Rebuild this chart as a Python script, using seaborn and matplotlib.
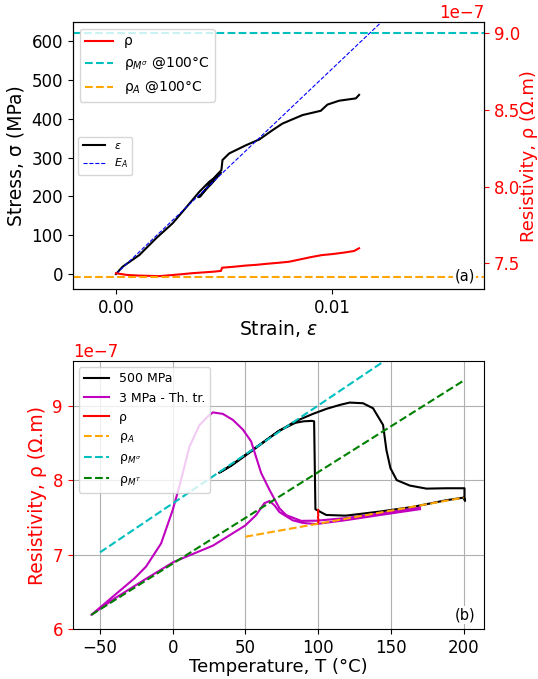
"""
Stress / resistivity plots: (a) strain curve at 100 C, (b) resistivity vs temperature.
"""
import matplotlib
matplotlib.use("Agg")
import matplotlib.pyplot as plt
import seaborn as sns

# ---- (a) stress-strain at 100 C ----
strain_eps = [0, 0.00031, 0.00108, 0.00185, 0.00262, 0.00308, 0.00385, 0.00431, 0.00485,
              0.0044, 0.0038, 0.0039, 0.0046, 0.00487, 0.00492, 0.00523, 0.0060, 0.00662,
              0.00723, 0.00769, 0.00862, 0.00946, 0.00977, 0.01031, 0.01108, 0.01123]
stress = [0, 19, 49, 92, 131, 161, 212, 238, 261,
          232, 198, 200, 252, 268, 294, 311, 332, 347,
          371, 388, 410, 421, 437, 447, 453, 462]

strain_rho = [0, 0.0005, 0.001, 0.0015, 0.002, 0.0025, 0.003, 0.0035, 0.004, 0.0045,
              0.00485, 0.0049, 0.0055, 0.006, 0.0065, 0.007, 0.0075, 0.008, 0.0085,
              0.009, 0.0095, 0.010, 0.0105, 0.011, 0.01123]
rho_strain = [7.435, 7.424, 7.42, 7.418, 7.416, 7.422, 7.428, 7.435, 7.44, 7.445,
              7.45, 7.471, 7.478, 7.485, 7.49, 7.497, 7.503, 7.51, 7.525,
              7.54, 7.553, 7.56, 7.569, 7.58, 7.598]

E_A = 53000.0  # MPa
strain_fit = [0.0, 0.0125]
rho_Ms_100 = 9.0
rho_A_100 = 7.41

# ---- (b) resistivity vs temperature ----
T_500 = [32, 40, 55, 65, 73, 84.3, 96.4, 105.6, 114.8, 121.6, 130.8, 137.7, 144.6,
         146.9, 149.7, 154, 163, 174.4, 188, 200.6, 200.6, 201, 200, 188, 165, 142,
         119, 105.5, 98.1, 97.2, 95.6, 90, 84.3, 72.9, 55, 40, 33]
rho_500 = [8.10, 8.20, 8.41, 8.55, 8.66, 8.79, 8.89, 8.957, 9.01, 9.042, 9.033, 8.966, 8.742,
           8.406, 8.16, 8.0, 7.927, 7.886, 7.891, 7.891, 7.77, 7.72, 7.765, 7.73, 7.64, 7.577,
           7.523, 7.532, 7.609, 8.79, 8.796, 8.79, 8.77, 8.66, 8.40, 8.19, 8.11]

T_3 = [170, 142, 119, 98.6, 88.3, 78, 73.4, 66.5, 60.8, 53.9, 48.2, 41.3, 34.4, 27.6,
       24.1, 18.4, 11.5, 4.6, 0, -8, -18.3, -26.3, -56,
       -40, -20, 0.5, 27.6, 49.8, 57.3, 63, 66.5, 70, 73.4, 82.5, 89.4, 98.6,
       120, 142, 170]
rho_3 = [7.63, 7.55, 7.49, 7.455, 7.453, 7.53, 7.62, 7.87, 8.095, 8.52, 8.68, 8.81, 8.89, 8.91,
         8.855, 8.74, 8.45, 7.92, 7.6, 7.15, 6.84, 6.681, 6.19,
         6.41, 6.655, 6.9, 7.12, 7.39, 7.53, 7.69, 7.72, 7.66, 7.57, 7.46, 7.425, 7.41,
         7.465, 7.53, 7.61]

T_rho = [100, 100.2, 99.8, 100.1, 99.9, 100]
rho_T = [7.43, 7.47, 7.5, 7.53, 7.56, 7.6]

T_A = [50, 200]
rho_A = [7.24, 7.765]
T_Ms = [-50, 150]
rho_Ms = [7.03, 9.66]
T_Mt = [-56, 200]
rho_Mt = [6.19, 9.337]

sc = 1e-7

fig = plt.figure(figsize=(5.38, 6.79), dpi=100)
ax1 = fig.add_axes([0.1351, 0.5739, 0.7645, 0.3937])
ax2 = ax1.twinx()
ax3 = fig.add_axes([0.1351, 0.0736, 0.7645, 0.3947])

# (a) stress-strain
sns.lineplot(x=strain_eps, y=stress, sort=False, estimator=None, ax=ax1,
             color="k", lw=1.5, label=r"$\varepsilon$")
stress_fit = [E_A * s for s in strain_fit]
sns.lineplot(x=strain_fit, y=stress_fit, sort=False, estimator=None, ax=ax1,
             color="b", lw=0.8, linestyle="--", label=r"$E_A$")
ax1.set_xlim(-0.002, 0.017)
ax1.set_ylim(-39.5, 650)
ax1.set_xticks([0, 0.01])
ax1.set_yticks(range(0, 700, 100))
ax1.set_xlabel(r"Strain, $\varepsilon$", fontsize=13.5, labelpad=1)
ax1.set_ylabel("Stress, σ (MPa)", fontsize=13.5)
ax1.tick_params(labelsize=12)
ax1.legend(loc="center left", fontsize=8)

sns.lineplot(x=strain_rho, y=[r * sc for r in rho_strain], sort=False, estimator=None,
             ax=ax2, color="r", lw=1.5, label="ρ")
ax2.axhline(rho_Ms_100 * sc, color="c", ls="--", lw=1.5, label=r"ρ$_{M^\sigma}$ @100°C")
ax2.axhline(rho_A_100 * sc, color="orange", ls="--", lw=1.5, label=r"ρ$_A$ @100°C")
ax2.set_ylim(7.33 * sc, 9.074 * sc)
ax2.set_yticks([7.5 * sc, 8.0 * sc, 8.5 * sc, 9.0 * sc])
ax2.set_ylabel("Resistivity, ρ (Ω.m)", color="r", fontsize=13, labelpad=0)
ax2.tick_params(axis="y", colors="r", labelsize=12)
ax2.yaxis.get_offset_text().set_color("r")
ax2.yaxis.get_offset_text().set_fontsize(12)
ax2.legend(loc="upper left", fontsize=10)
ax2.text(0.978, 0.051, "(a)", transform=ax2.transAxes, ha="right", va="center",
         fontsize=10.5, bbox=dict(facecolor="white", edgecolor="none", pad=1))

# (b) resistivity vs temperature
ax3.grid(True, color="#b0b0b0", lw=0.8)
ax3.set_axisbelow(True)
sns.lineplot(x=T_500, y=[r * sc for r in rho_500], sort=False, estimator=None, ax=ax3,
             color="k", lw=1.5, label="500 MPa")
sns.lineplot(x=T_3, y=[r * sc for r in rho_3], sort=False, estimator=None, ax=ax3,
             color="m", lw=1.5, label="3 MPa - Th. tr.")
sns.lineplot(x=T_rho, y=[r * sc for r in rho_T], sort=False, estimator=None, ax=ax3,
             color="r", lw=1.5, label="ρ")
sns.lineplot(x=T_A, y=[r * sc for r in rho_A], sort=False, estimator=None, ax=ax3,
             color="orange", lw=1.5, linestyle="--", label=r"ρ$_A$")
sns.lineplot(x=T_Ms, y=[r * sc for r in rho_Ms], sort=False, estimator=None, ax=ax3,
             color="c", lw=1.5, linestyle="--", label=r"ρ$_{M^\sigma}$")
sns.lineplot(x=T_Mt, y=[r * sc for r in rho_Mt], sort=False, estimator=None, ax=ax3,
             color="g", lw=1.5, linestyle="--", label=r"ρ$_{M^T}$")
ax3.set_xlim(-68.8, 214)
ax3.set_ylim(6.0 * sc, 9.6 * sc)
ax3.set_xticks(range(-50, 250, 50))
ax3.set_yticks([6 * sc, 7 * sc, 8 * sc, 9 * sc])
ax3.set_xlabel("Temperature, T (°C)", fontsize=13, labelpad=1)
ax3.set_ylabel("Resistivity, ρ (Ω.m)", color="r", fontsize=13.5)
ax3.tick_params(labelsize=12)
ax3.tick_params(axis="y", colors="r")
ax3.yaxis.get_offset_text().set_color("r")
ax3.yaxis.get_offset_text().set_fontsize(12)
ax3.legend(loc="upper left", fontsize=9)
ax3.text(0.978, 0.052, "(b)", transform=ax3.transAxes, ha="right", va="center",
         fontsize=10.5, bbox=dict(facecolor="white", edgecolor="none", pad=1))

fig.savefig("out.png", dpi=100)
